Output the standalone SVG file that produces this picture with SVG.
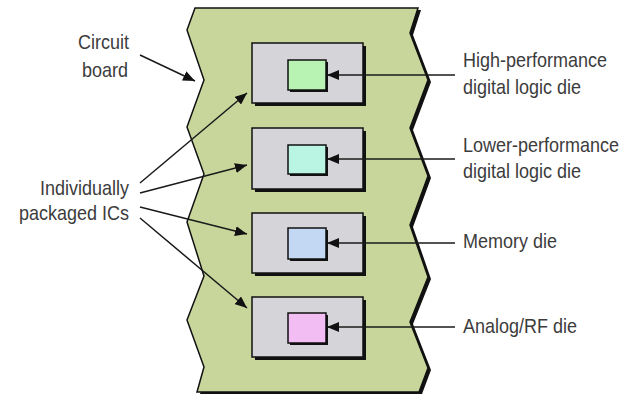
<svg xmlns="http://www.w3.org/2000/svg" width="637" height="397" viewBox="0 0 637 397">
  <style>
    .lbl { font-family: "Liberation Sans", Arial, sans-serif; font-size: 20px; fill: #3c3c3c; }
    .end { text-anchor: end; }
    .pkg { fill: #d5d5d9; stroke: #111; stroke-width: 1.5; }
    .shadow { fill: #111; }
    .die { stroke: #111; stroke-width: 1.5; }
    .conn { stroke: #1a1a1a; stroke-width: 1.5; fill: none; marker-end: url(#ah); }
  </style>
  <defs>
    <marker id="ah" markerUnits="userSpaceOnUse" markerWidth="13" markerHeight="10" refX="12" refY="5" orient="auto">
      <path d="M0,0 L12,5 L0,10 Z" fill="#111"/>
    </marker>
  </defs>
  <rect width="637" height="397" fill="#fff"/>
  <g id="board">
    <polygon class="shadow" transform="translate(3,2)" points="195,8 187,30 204,80 187,127 204,174 187,222 204,276 187,320 204,367 197,392 419,392 428,368 410,322 428,277 410,225 428,176 410,128 428,80 410,33 418,8"/>
    <polygon fill="#c8d69c" stroke="#111" stroke-width="1.5" stroke-linejoin="miter" points="195,8 187,30 204,80 187,127 204,174 187,222 204,276 187,320 204,367 197,392 419,392 428,368 410,322 428,277 410,225 428,176 410,128 428,80 410,33 418,8"/>
  </g>
  <g id="ic1">
    <rect class="shadow" x="255" y="46" width="111" height="60"/>
    <rect class="pkg" x="252" y="43" width="111" height="60"/>
    <rect class="shadow" x="290" y="62" width="38" height="30"/>
    <rect class="die" x="288" y="60" width="38" height="30" fill="#b9f3b4"/>
  </g>
  <g id="ic2">
    <rect class="shadow" x="255" y="131" width="111" height="61"/>
    <rect class="pkg" x="252" y="128" width="111" height="61"/>
    <rect class="shadow" x="290" y="147" width="38" height="29"/>
    <rect class="die" x="288" y="145" width="38" height="29" fill="#b9f5e2"/>
  </g>
  <g id="ic3">
    <rect class="shadow" x="255" y="216" width="111" height="60"/>
    <rect class="pkg" x="252" y="213" width="111" height="60"/>
    <rect class="shadow" x="290" y="230" width="38" height="31"/>
    <rect class="die" x="288" y="228" width="38" height="31" fill="#c3d8f2"/>
  </g>
  <g id="ic4">
    <rect class="shadow" x="255" y="300" width="111" height="60"/>
    <rect class="pkg" x="252" y="297" width="111" height="60"/>
    <rect class="shadow" x="290" y="315" width="38" height="30"/>
    <rect class="die" x="288" y="313" width="38" height="30" fill="#f2bdf2"/>
  </g>
  <g id="connectors">
    <line class="conn" x1="140" y1="55" x2="195" y2="81"/>
    <line class="conn" x1="140" y1="183" x2="247" y2="93"/>
    <line class="conn" x1="140" y1="193" x2="247" y2="165"/>
    <line class="conn" x1="140" y1="207" x2="247" y2="234"/>
    <line class="conn" x1="140" y1="218" x2="247" y2="308"/>
    <line class="conn" x1="455" y1="75" x2="327" y2="75"/>
    <line class="conn" x1="455" y1="159" x2="327" y2="159"/>
    <line class="conn" x1="455" y1="243" x2="327" y2="243"/>
    <line class="conn" x1="455" y1="327" x2="327" y2="327"/>
  </g>
  <g id="labels">
    <text class="lbl end" transform="translate(129,49) scale(0.9,1)">Circuit</text>
    <text class="lbl end" transform="translate(128,77) scale(0.9,1)">board</text>
    <text class="lbl end" transform="translate(129,195) scale(0.9,1)">Individually</text>
    <text class="lbl end" transform="translate(129,220) scale(0.9,1)">packaged ICs</text>
    <text class="lbl" transform="translate(463,67) scale(0.9,1)">High-performance</text>
    <text class="lbl" transform="translate(463,94) scale(0.9,1)">digital logic die</text>
    <text class="lbl" transform="translate(463,152) scale(0.9,1)">Lower-performance</text>
    <text class="lbl" transform="translate(463,178) scale(0.9,1)">digital logic die</text>
    <text class="lbl" transform="translate(463,248) scale(0.9,1)">Memory die</text>
    <text class="lbl" transform="translate(463,333) scale(0.9,1)">Analog/RF die</text>
  </g>
</svg>
